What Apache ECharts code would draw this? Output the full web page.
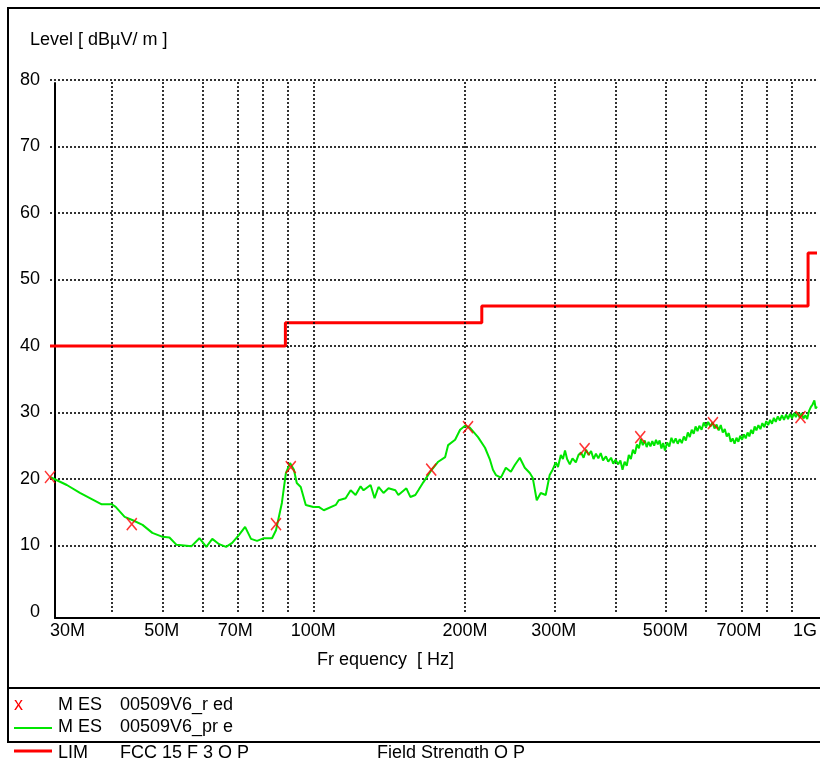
<!DOCTYPE html>
<html><head><meta charset="utf-8">
<script src="https://cdn.jsdelivr.net/npm/echarts@6/dist/echarts.min.js"></script>
<style>html,body{margin:0;padding:0;background:#fff}#c{width:820px;height:758px}</style>
</head><body><div id="c"></div>
<script>
// ---- data ----
const preFreqMHz = [30.0,32.4,34.4,38.0,39.8,40.5,42.2,43.8,45.8,47.9,50.2,51.8,53.5,57.3,59.4,61.3,63.0,65.0,67.1,69.0,71.2,73.2,75.2,77.3,79.8,82.8,84.3,86.6,88.2,89.9,91.5,92.7,94.4,96.6,100.0,102.5,104.9,110.8,112.3,115.9,118.6,121.3,124.1,125.8,129.9,132.3,134.7,137.8,141.0,145.5,147.5,153.0,155.8,159.4,161.6,165.3,170.7,177.0,182.7,185.2,191.2,195.6,200.1,204.7,212.3,219.2,224.2,227.3,230.4,235.7,241.1,246.7,251.2,257.0,262.9,269.0,272.6,277.7,282.8,289.3,294.6,298.6,
  303,306,310,313,316,319,323,327,332,336,340,344,348,352,356,360,364,368,372,376,381,385,390,394,398,403,407,411,415,419,423,427,431,435,439,443,447,451,455,459,463,467,471,475,479,483,487,491,495,499,504,509,514,519,524,529,534,539,544,549,554,559,564,569,574,579,584,590,596,602,608,614,620,626,632,638,644,650,656,662,668,674,680,686,692,698,704,710,716,722,728,734,740,746,752,758,765,772,779,786,793,800,807,814,821,828,836,844,852,860,868,876,884,892,900,908,916,924,932,940,948,956,964,972,980,988,994,1000];
const preLevel = [20.3,19.1,17.9,16.2,16.2,15.8,14.3,13.8,13.1,11.9,11.3,11.2,10.1,9.9,11.1,9.8,11.0,10.2,9.8,10.4,11.6,12.8,11.0,10.7,11.1,11.1,12.3,16.4,20.9,22.4,21.4,19.4,18.8,16.1,15.8,15.8,15.3,16.1,16.8,17.1,18.3,17.6,18.9,18.3,19.1,17.1,18.8,17.9,18.6,18.3,17.6,18.6,17.3,17.6,18.3,19.5,21.1,22.6,23.3,25.1,25.9,27.4,28.0,27.7,26.3,24.7,22.9,21.4,20.6,20.2,21.7,21.1,22.1,23.2,21.7,20.9,20.2,16.8,17.9,17.6,20.6,21.4,
  22.5,21.8,23.6,23.0,24.3,23.0,22.2,23.1,22.5,23.6,24.0,23.2,24.4,23.6,24.2,23.0,23.8,23.1,23.9,22.8,23.4,22.6,23.2,22.3,22.9,22.2,22.8,21.4,22.6,22.0,23.6,23.0,24.4,23.8,25.2,24.6,26.0,25.1,25.8,24.8,25.6,24.9,25.7,25.0,25.9,25.2,25.8,24.6,25.4,24.3,25.5,24.9,26.2,25.4,26.1,25.3,26.0,25.4,26.4,25.8,27.0,26.3,27.4,26.8,27.9,27.2,28.0,27.4,28.5,27.8,28.6,27.9,28.5,27.6,28.2,27.3,28.1,27.0,27.5,26.4,26.9,25.6,26.1,25.3,26.2,25.6,26.5,25.9,26.7,26.1,27.0,26.4,27.4,26.8,27.9,27.3,28.1,27.5,28.4,27.8,28.7,28.1,28.9,28.3,29.2,28.6,29.4,28.8,29.6,28.9,29.7,29.0,29.8,29.1,29.9,29.3,30.0,29.2,29.9,29.1,29.6,29.0,30.2,30.8,31.2,31.8,30.6,30.9];
const redFreqMHz = [30.0,43.6,84.3,90.2,171.4,202.8,345.6,445.7,621.4,927.4];
const redLevel   = [20.3,13.2,13.2,21.8,21.4,27.8,24.5,26.3,28.4,29.3];
const limFreqMHz = [30,88,88,216,216,960,960,1000];
const limLevel   = [40,40,43.5,43.5,46,46,54,54];
const gridFreqMHz = [40,50,60,70,80,90,100,200,300,400,500,600,700,800,900];
const xLabelFreqMHz = [30,50,70,100,200,300,500,700,1000];
const xLabelText    = ['30M','50M','70M','100M','200M','300M','500M','700M','1G'];

const L = Math.log10;
const pair = (fs, vs) => fs.map((f,i)=>[L(f), vs[i]]);
const FONT = 'Liberation Sans';
const chart = echarts.init(document.getElementById('c'), null, {renderer:'canvas'});
const labelMap = {};
xLabelFreqMHz.forEach((f,i)=>{ labelMap[L(f).toFixed(6)] = xLabelText[i]; });
const dotStyle = {type:[2,2], color:'#000', width:1.6};

chart.setOption({
  animation:false,
  backgroundColor:'#fff',
  grid:[
    {left:50, top:80, right:-1, bottom:146, containLabel:false},
    {left:55, top:83, right:-1, bottom:140, containLabel:false}
  ],
  xAxis:[
    {type:'value', gridIndex:0, min:L(30), max:3,
     axisLine:{show:false}, axisTick:{show:false}, splitLine:{show:false},
     axisLabel:{show:true, customValues:xLabelFreqMHz.map(L), margin:10,
       fontFamily:FONT, fontSize:18, color:'#000',
       alignMinLabel:'left', alignMaxLabel:'right',
       formatter:v=>labelMap[v.toFixed(6)] || ''}},
    {type:'value', gridIndex:1, min:0, max:1, axisLine:{show:true, lineStyle:{color:'#000', width:2}},
     axisTick:{show:false}, axisLabel:{show:false}, splitLine:{show:false}}
  ],
  yAxis:[
    {type:'value', gridIndex:0, min:0, max:80, interval:10,
     axisLine:{show:false}, axisTick:{show:false},
     axisLabel:{margin:10, fontFamily:FONT, fontSize:18, color:'#000'},
     splitLine:{show:true, showMinLine:false, lineStyle:dotStyle}},
    {type:'value', gridIndex:1, min:0, max:1, axisLine:{show:true, lineStyle:{color:'#000', width:2}},
     axisTick:{show:false}, axisLabel:{show:false}, splitLine:{show:false}}
  ],
  series:[
    {type:'line', name:'LIM FCC 15 F 3 Q P', data:pair(limFreqMHz, limLevel), showSymbol:false,
     lineStyle:{color:'#ff0000', width:3}, z:4,
     markLine:{silent:true, symbol:['none','none'], label:{show:false},
       lineStyle:dotStyle,
       data:gridFreqMHz.map(f=>({xAxis:L(f)}))}},
    {type:'line', name:'MES 00509V6_pre', data:pair(preFreqMHz, preLevel), showSymbol:false,
     lineStyle:{color:'#00e600', width:2}, z:5},
    {type:'scatter', name:'MES 00509V6_red', data:pair(redFreqMHz, redLevel),
     symbol:'path://M0,0L10,12M10,0L0,12', symbolSize:[10,12],
     itemStyle:{color:'rgba(0,0,0,0)', borderColor:'#ff0000', borderWidth:1.6}, z:6}
  ],
  graphic:[
    {type:'rect', shape:{x:8, y:8, width:830, height:734}, style:{fill:'none', stroke:'#000', lineWidth:2}, z:0},
    {type:'line', shape:{x1:8, y1:688, x2:830, y2:688}, style:{stroke:'#000', lineWidth:2}},
    {type:'text', x:30, y:40, style:{text:'Level [ dBµV/ m ]', font:'18px '+FONT, fill:'#000', textVerticalAlign:'middle'}},
    {type:'text', x:317, y:660, style:{text:'Fr equency  [ Hz]', font:'18px '+FONT, fill:'#000', textVerticalAlign:'middle'}},
    {type:'text', x:14, y:705, style:{text:'x', font:'18px '+FONT, fill:'#ff0000', textVerticalAlign:'middle'}},
    {type:'text', x:58, y:705, style:{text:'M ES', font:'18px '+FONT, fill:'#000', textVerticalAlign:'middle'}},
    {type:'text', x:120, y:705, style:{text:'00509V6_r ed', font:'18px '+FONT, fill:'#000', textVerticalAlign:'middle'}},
    {type:'line', shape:{x1:14, y1:728, x2:52, y2:728}, style:{stroke:'#00e600', lineWidth:2}},
    {type:'text', x:58, y:727, style:{text:'M ES', font:'18px '+FONT, fill:'#000', textVerticalAlign:'middle'}},
    {type:'text', x:120, y:727, style:{text:'00509V6_pr e', font:'18px '+FONT, fill:'#000', textVerticalAlign:'middle'}},
    {type:'line', shape:{x1:14, y1:751, x2:52, y2:751}, style:{stroke:'#ff0000', lineWidth:3}},
    {type:'text', x:58, y:753, style:{text:'LIM', font:'18px '+FONT, fill:'#000', textVerticalAlign:'middle'}},
    {type:'text', x:120, y:753, style:{text:'FCC 15 F 3 Q P', font:'18px '+FONT, fill:'#000', textVerticalAlign:'middle'}},
    {type:'text', x:377, y:753, style:{text:'Field Strength Q P', font:'18px '+FONT, fill:'#000', textVerticalAlign:'middle'}}
  ]
});
</script></body></html>
